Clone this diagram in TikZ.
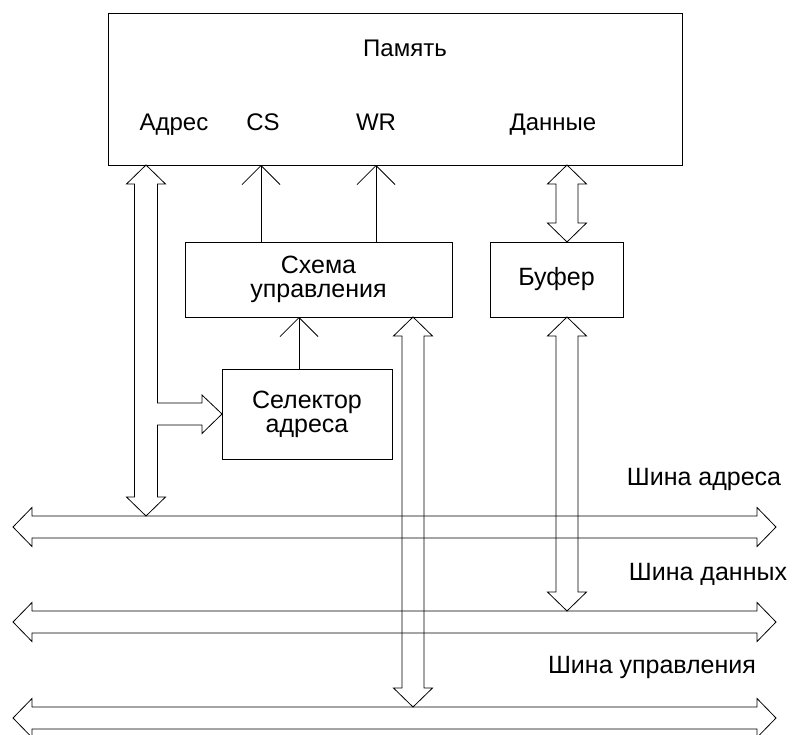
\documentclass[tikz,border=0pt]{standalone}
\usepackage{fontspec}
\setmainfont{Liberation Sans}
\usetikzlibrary{calc,arrows.meta}

\newcommand\arrlen{19pt}
\newcommand\arrwid{19.5pt}
\newcommand\shaftwid{11pt}

\begin{document}
\begin{tikzpicture}[x=1pt,y=-1pt,line width=0.8pt,
  box/.style={draw,inner sep=0pt,outer sep=0pt,align=center,
    font=\fontsize{25}{24}\selectfont},
  lbl/.style={anchor=base,inner sep=0pt,font=\fontsize{24}{24}\selectfont},
  buslbl/.style={anchor=base,inner sep=0pt,font=\fontsize{25}{24}\selectfont},
  sig/.style={-{Straight Barb[length=19pt,width=38pt]}},
  bus/.style={to path={
    -- ($(\tikztostart)!\arrlen!(\tikztotarget)!\arrwid!90:(\tikztotarget)$)
    -- ($(\tikztostart)!\arrlen!(\tikztotarget)!\shaftwid!90:(\tikztotarget)$)
    -- ($(\tikztotarget)!\arrlen!(\tikztostart)!\shaftwid!-90:(\tikztostart)$)
    -- ($(\tikztotarget)!\arrlen!(\tikztostart)!\arrwid!-90:(\tikztostart)$)
    -- (\tikztotarget)
    -- ($(\tikztotarget)!\arrlen!(\tikztostart)!\arrwid!90:(\tikztostart)$)
    -- ($(\tikztotarget)!\arrlen!(\tikztostart)!\shaftwid!90:(\tikztostart)$)
    -- ($(\tikztostart)!\arrlen!(\tikztotarget)!\shaftwid!-90:(\tikztotarget)$)
    -- ($(\tikztostart)!\arrlen!(\tikztotarget)!\arrwid!-90:(\tikztotarget)$)
    -- cycle}}]
\useasboundingbox (0,0) rectangle (794,735);

% blocks
\node[box,minimum width=574pt,minimum height=152pt] (mem) at (395,89) {};
\node[box,minimum width=267pt,minimum height=75pt] (cs) at (318.5,279.5) {Схема\\управления};
\node[box,minimum width=133pt,minimum height=75pt] (buf) at (556.5,279.5) {Буфер};
\node[box,minimum width=170pt,minimum height=90pt] (sel) at (307,414) {Селектор\\адреса};

% memory labels
\node[lbl] (memname) at (405,57) {Память};
\node[lbl] (adr) at (174,131) {Адрес};
\node[lbl] (csl) at (263,131) {CS};
\node[lbl] (wrl) at (376,131) {WR};
\node[lbl] (dat) at (553,131) {Данные};

% buses
\coordinate (abusL) at (13,527);
\coordinate (abusR) at (776,527);
\coordinate (dbusL) at (13,622);
\coordinate (dbusR) at (776,622);
\coordinate (cbusL) at (13,718);
\coordinate (cbusR) at (776,718);
\draw (abusL) to[bus] (abusR);
\draw (dbusL) to[bus] (dbusR);
\draw (cbusL) to[bus] (cbusR);
\node[buslbl] (abuslbl) at (704,485) {Шина адреса};
\node[buslbl] (dbuslbl) at (708,580) {Шина данных};
\node[buslbl] (cbuslbl) at (652,673) {Шина управления};

% control lines
\coordinate (csline) at ([xshift=-57.5pt]cs.north);
\coordinate (wrline) at ([xshift=57.5pt]cs.north);
\coordinate (selline) at ([xshift=-8pt]sel.north);
\draw[sig] (csline) -- (csline |- mem.south);
\draw[sig] (wrline) -- (wrline |- mem.south);
\draw[sig] (selline) -- (selline |- cs.south);

% data path
\coordinate (bufup) at (567,165);
\coordinate (buftop) at ([xshift=10.5pt]buf.north);
\coordinate (bufbot) at ([xshift=10.5pt]buf.south);
\coordinate (bufdn) at (567,611);
\draw (bufup) to[bus] (buftop);
\draw (bufbot) to[bus] (bufdn);

% control path
\coordinate (ctltop) at ([xshift=94.5pt]cs.south);
\coordinate (ctldn) at (413,707);
\draw (ctltop) to[bus] (ctldn);

% address path with branch to selector
\coordinate (adrtop) at (146,165);
\coordinate (adrbot) at (146,516);
\draw (adrtop) -- ++(19.5,19) -- ++(-8,0)
  |- ($(sel.west)+(-20,-11)$) -- ++(0,-8) -- (sel.west)
  -- ++(-20,19.5) -- ++(0,-8.5) -- ++(-44.5,0)
  -- ($(adrbot)+(11.5,-19)$) -- ++(8,0) -- (adrbot)
  -- ++(-19.5,-19) -- ++(8,0) -- ($(adrtop)+(-11.5,19)$)
  -- ++(-8,0) -- cycle;
\end{tikzpicture}
\end{document}
